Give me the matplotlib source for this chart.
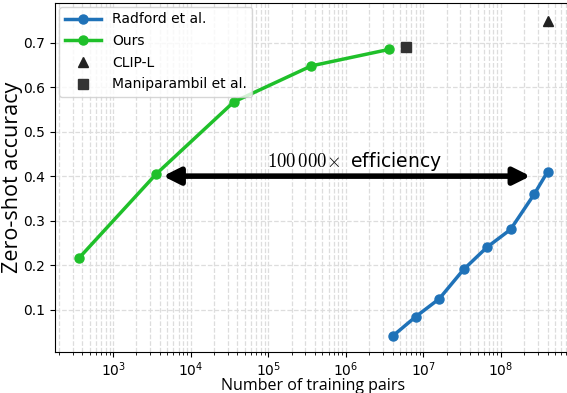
import numpy as np
import matplotlib
matplotlib.use("Agg")
import matplotlib.pyplot as plt

plt.rcParams['mathtext.fontset'] = 'cm'

# data
radford_x = [4e6, 8e6, 1.6e7, 3.3e7, 6.6e7, 1.33e8, 2.7e8, 4e8]
radford_y = [0.040, 0.084, 0.124, 0.190, 0.240, 0.280, 0.360, 0.410]
ours_x = [3.6e2, 3.6e3, 3.6e4, 3.6e5, 3.6e6]
ours_y = [0.215, 0.405, 0.567, 0.648, 0.685]
clip_x = [4e8]
clip_y = [0.750]
mani_x = [6e6]
mani_y = [0.690]
arrow_x = [4.4e3, 2.4e8]
arrow_y = 0.40

fig = plt.figure(figsize=(5.67, 3.93), dpi=100)
ax = fig.add_axes([0.097, 0.105, 0.91, 0.888])

ax.plot(radford_x, radford_y, '-o', color='#1f72b8', lw=2.5, ms=6.5, label='Radford et al.')
ax.plot(ours_x, ours_y, '-o', color='#1fc02a', lw=2.5, ms=6.5, label='Ours')
ax.plot(clip_x, clip_y, '^', color='#222222', ms=7, ls='none', label='CLIP-L')
ax.plot(mani_x, mani_y, 's', color='#333333', ms=7, ls='none', label='Maniparambil et al.')

ax.annotate('', xy=(arrow_x[0], arrow_y), xytext=(arrow_x[1], arrow_y),
            arrowprops=dict(arrowstyle='<|-|>', color='black', lw=4,
                            mutation_scale=25, shrinkA=0, shrinkB=0))
ax.text(np.sqrt(arrow_x[0] * arrow_x[1]) * 1.25, arrow_y + 0.008,
        r'$100\,000\!\times$ efficiency', ha='center', va='bottom', fontsize=13.5,
        math_fontfamily='cm')

ax.set_xscale('log')
ax.set_xlim(178, 8e8)
ax.set_ylim(0.005, 0.79)
ax.set_yticks([0.1, 0.2, 0.3, 0.4, 0.5, 0.6, 0.7])
ax.grid(True, which='major', ls='--', color='#dddddd', lw=0.9)
ax.grid(True, which='minor', axis='x', ls='--', color='#dddddd', lw=0.9)
ax.set_axisbelow(True)
ax.tick_params(labelsize=10)
ax.tick_params(axis='x', pad=2.5)

ax.set_xlabel('Number of training pairs', fontsize=11.5, family='Open Sans')
ax.set_ylabel('Zero-shot accuracy', fontsize=15.5, family='Open Sans')
ax.xaxis.set_label_coords(0.5, -0.074)
ax.yaxis.set_label_coords(-0.062, 0.5)

ax.legend(loc='upper left', fontsize=10, borderaxespad=0.3, handlelength=2.6,
          labelspacing=0.55)

fig.savefig('out.png', dpi=100)
